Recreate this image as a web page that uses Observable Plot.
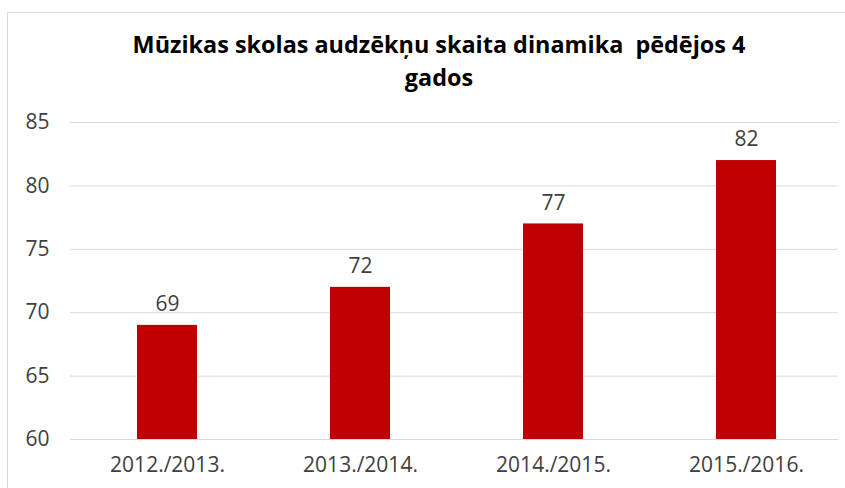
<!DOCTYPE html>
<html>
<head>
<meta charset="utf-8">
<script src="https://cdn.jsdelivr.net/npm/d3@7"></script>
<script src="https://cdn.jsdelivr.net/npm/@observablehq/plot@0.6"></script>
<style>
  html, body { margin: 0; padding: 0; background: #fff; width: 845px; height: 488px; overflow: hidden; }
  #frame { position: absolute; left: 7px; top: 12px; width: 860px; height: 500px; border: 1px solid #d9d9d9; box-sizing: border-box; }
  #title { position: absolute; left: 0; top: 28px; width: 878px; text-align: center; font-family: "Open Sans", sans-serif; font-weight: bold; font-size: 23.4px; line-height: 33px; color: #000; }
  #chart { position: absolute; left: 0; top: 100px; }
</style>
</head>
<body>
<div id="frame"></div>
<div id="title">Mūzikas skolas audzēkņu skaita dinamika&nbsp; pēdējos 4<br>gados</div>
<div id="chart"></div>
<script>
const years = ["2012./2013.", "2013./2014.", "2014./2015.", "2015./2016."];
const counts = [69, 72, 77, 82];
const yTicks = [60, 65, 70, 75, 80, 85];

const data = years.map((y, i) => ({year: y, value: counts[i]}));

const plot = Plot.plot({
  width: 845,
  height: 388,
  marginTop: 22,
  marginBottom: 49,
  marginLeft: 70,
  marginRight: 7,
  style: {fontFamily: "'Open Sans', sans-serif", fontSize: "21px", color: "#404040", background: "transparent"},
  x: {domain: years, paddingInner: 0.69, paddingOuter: 0.33, align: 0.52, label: null, tickSize: 0, tickPadding: 18},
  y: {domain: [60, 85], ticks: yTicks, label: null, tickSize: 0, tickPadding: 21},
  marks: [
    Plot.gridY(yTicks, {stroke: "#d9d9d9", strokeOpacity: 1, strokeWidth: 1}),
    Plot.barY(data, {x: "year", y1: 60, y2: "value", fill: "#c00000"}),
    Plot.text(data, {x: "year", y: "value", text: d => String(d.value), dy: -21, fill: "#404040", fontSize: 21})
  ]
});
plot.querySelectorAll("g[aria-label='x-axis tick label'] text, g[aria-label='y-axis tick label'] text").forEach(t => t.setAttribute("fill", "#404040"));
document.getElementById("chart").appendChild(plot);
</script>
</body>
</html>
